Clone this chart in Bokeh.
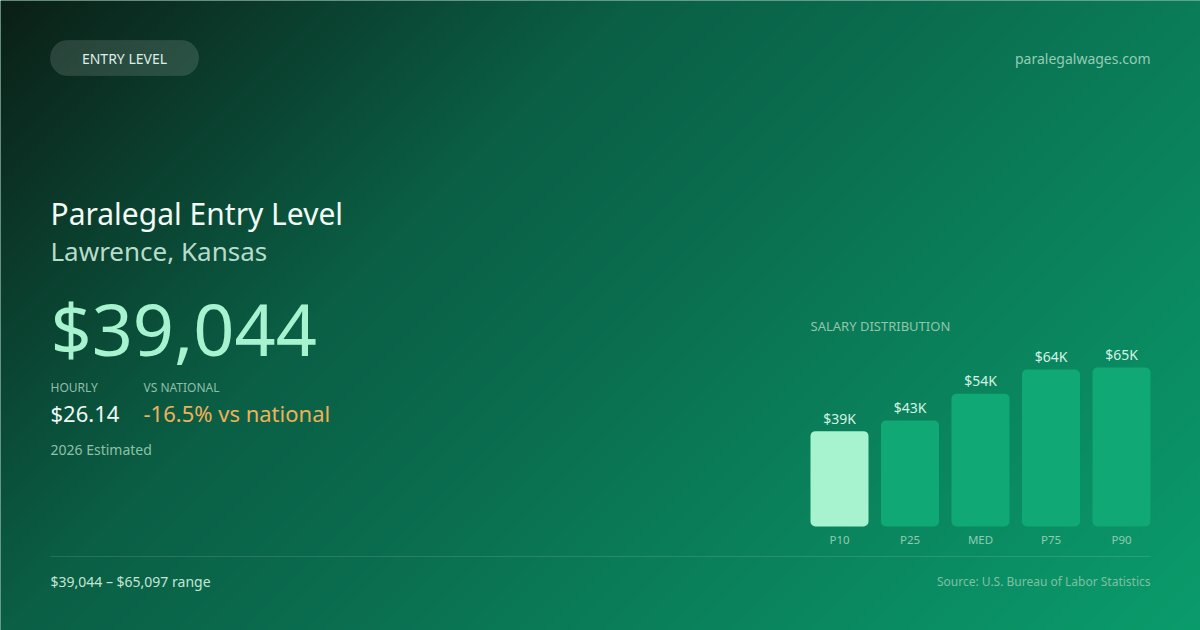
import numpy as np
from bokeh.plotting import figure
from bokeh.models import Range1d, Label, ColumnDataSource
from bokeh.core.properties import value
from bokeh.embed import file_html
from bokeh.resources import INLINE

# ---- data ----
percentiles = ["P10", "P25", "MED", "P75", "P90"]
salaries = [39044, 43400, 54400, 64300, 65097]
bar_labels = ["$39K", "$43K", "$54K", "$64K", "$65K"]
title = "Paralegal Entry Level"
location = "Lawrence, Kansas"
headline = "$39,044"
hourly = "$26.14"
vs_national = "-16.5% vs national"
badge = "ENTRY LEVEL"
site = "paralegalwages.com"
estimate_note = "2026 Estimated"
range_note = "$39,044 \u2013 $65,097 range"
source_note = "Source: U.S. Bureau of Labor Statistics"

FONT = "Noto Sans"
W, H = 1200, 630

def Y(py):
    return H - py

p = figure(width=W, height=H, output_backend="svg", toolbar_location=None,
           x_range=Range1d(0, W), y_range=Range1d(0, H),
           x_axis_location=None, y_axis_location=None, min_border=0,
           background_fill_color="#0a5f45", border_fill_color="#0a5f45")
p.outline_line_color = None
p.xgrid.visible = False
p.ygrid.visible = False

# ---- background gradient (135deg) ----
px = np.arange(W) + 0.5
py = H - (np.arange(H) + 0.5)  # row 0 = bottom
t = (px[None, :] + py[:, None]) / float(W + H)
stops_t = [0.0, 0.344, 0.5, 0.656, 1.0]
stops_c = [(12, 31, 23), (10, 95, 69), (10, 108, 78), (10, 124, 88), (11, 156, 108)]
img = np.empty((H, W), dtype=np.uint32)
view = img.view(dtype=np.uint8).reshape((H, W, 4))
for ch in range(3):
    view[:, :, ch] = np.interp(t, stops_t, [c[ch] for c in stops_c]).astype(np.uint8)
view[:, :, 3] = 255
p.image_rgba(image=[img], x=0, y=0, dw=W, dh=H)

def label(x, cy, text, size, color, align="left"):
    p.add_layout(Label(x=x, y=Y(cy), text=text, text_font=FONT,
                       text_font_size=f"{size}px", text_color=color,
                       text_align=align, text_baseline="middle"))

# ---- badge ----
p.quad(left=50, right=198, top=Y(40), bottom=Y(75), border_radius=17,
       fill_color="white", fill_alpha=0.13, line_color="white", line_alpha=0.06)
label(124, 58, badge, 14, "#dcefe6", align="center")
label(1150, 58, site, 14, "#93cdb5", align="right")

# ---- left text block ----
label(50, 212.5, title, 30, "#f2faf6")
label(50, 250, location, 26, "#b8dccb")
label(50, 327, headline, 72, "#a7f3d0")
label(50, 387, "HOURLY", 12, "#8fbfaa")
label(143, 387, "VS NATIONAL", 12, "#8fbfaa")
label(50, 412, hourly, 22, "#eef8f3")
label(143, 412, vs_national, 22, "#efb15a")
label(50, 449, estimate_note, 14, "#8fc0aa")

# ---- bar chart (own scales) ----
step = 70.5
first_center = 839
zero_py = 526
k = 159.0 / 65097  # px per dollar
p.extra_x_ranges = {"bx": Range1d((0 - first_center) / step, (W - first_center) / step)}
p.extra_y_ranges = {"by": Range1d(-(H - zero_py) / k, zero_py / k)}

src = ColumnDataSource(dict(
    i=list(range(len(percentiles))), v=salaries, lab=bar_labels, cat=percentiles,
    color=["#a7f3d0"] + ["#10a874"] * (len(percentiles) - 1),
    zero=[0] * len(percentiles)))
p.vbar(x="i", top="v", bottom=0, width=58 / step, source=src, fill_color="color",
       line_color=None, border_radius=5, x_range_name="bx", y_range_name="by")
p.text(x="i", y="v", text="lab", source=src, x_range_name="bx", y_range_name="by",
       text_font=value(FONT), text_font_size="14px", text_color="#d5f2e5",
       text_align="center", text_baseline="middle", y_offset=-13)
p.text(x="i", y="zero", text="cat", source=src, x_range_name="bx", y_range_name="by",
       text_font=value(FONT), text_font_size="11.5px", text_color="#8fcbb2",
       text_align="center", text_baseline="middle", y_offset=13)
label(810, 325, "SALARY DISTRIBUTION", 13, "#8fc6ad")

# ---- footer ----
p.segment(x0=50, x1=1150, y0=Y(556), y1=Y(556), line_color="white", line_alpha=0.12, line_width=1)
label(50, 581, range_note, 14, "#c5e5d5")
label(1150, 581, source_note, 12, "#7fc0a5", align="right")

open("out.html", "w").write(file_html(p, INLINE))
